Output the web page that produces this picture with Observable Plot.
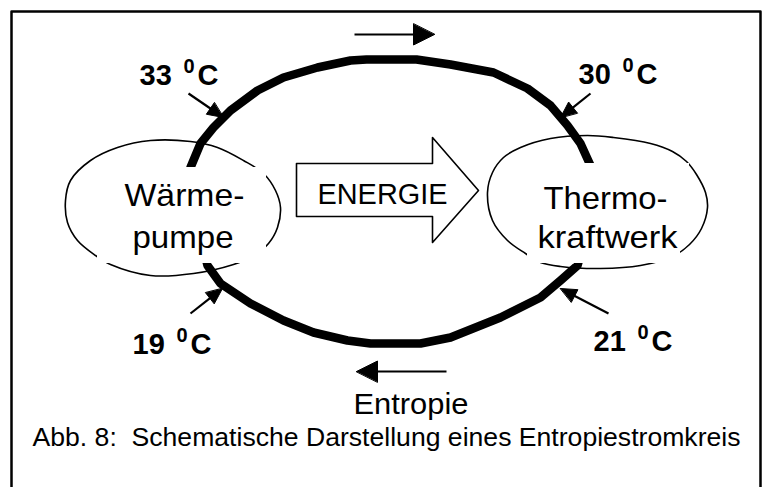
<!DOCTYPE html>
<html><head><meta charset="utf-8">
<script src="https://cdn.jsdelivr.net/npm/d3@7"></script>
<script src="https://cdn.jsdelivr.net/npm/@observablehq/plot@0.6"></script>
<style>body{margin:0;background:#fff}</style>
</head><body><div id="chart"></div>
<script>
// Diagram geometry (pixel units)
const frame = [[11,487],[11,11],[760,11],[760,487]];
const loop = [[190,167],[200,143],[213,127],[230,110],[257,90],[283,77],[317,67],[350,60],[366,59],[416,59],[450,64],[493,72],[527,88],[550,105],[567,125],[580,143],[590,165],[593,210],[577,265],[560,280],[540,297],[500,317],[450,337],[420,343],[370,343],[347,340],[313,332],[283,320],[250,303],[220,283],[207,265],[198,230],[190,195]];
const leftEllipse = [[65,200],[70,180],[90,160],[117,147],[150,140],[190,141],[217,147],[243,160],[263,173],[275,190],[280,207],[277,227],[268,243],[252,256],[233,264],[193,273],[150,275],[110,264],[95,255],[77,240],[67,222]];
const rightEllipse = [[487,192],[492,172],[503,157],[520,147],[550,138],[587,135],[613,137],[650,143],[672,151],[686,161],[696,174],[705,192],[707,207],[701,228],[689,244],[672,256],[640,265],[600,268],[560,266],[540,262],[525,253],[507,240],[492,220]];
// white boxes behind the node labels
const boxes = [{x1:97,y1:167,x2:266,y2:263},{x1:525,y1:163,x2:689,y2:229},{x1:527,y1:229,x2:680,y2:263}];
const energyArrow = [[296,163],[432,163],[432,137],[478,190],[432,242],[432,216],[296,216]];
const flowArrows = [{x1:354,y1:34,x2:434,y2:34},{x1:446,y1:371,x2:356,y2:371}];
const tempArrows = [{x1:188,y1:93,x2:223,y2:117},{x1:590,y1:93,x2:560,y2:117},{x1:190,y1:313,x2:222,y2:288},{x1:608,y1:313,x2:560,y2:288}];
const tempValues = ["33","30","19","21"];
const tempPos = [[139,84],[578,83],[132,353],[593,350]];
const nodeWords = ["Wärme-","pumpe","Thermo-","kraftwerk"];
const nodePos = [[124,205],[132,247],[543,208],[537,247]];
const energyLabel = "ENERGIE";
const flowLabel = "Entropie";
const caption = "Abb. 8:  Schematische Darstellung eines Entropiestromkreis";

function heads(arrows, L, W) {
  const shafts = [], tris = [];
  arrows.forEach((a, i) => {
    const dx = a.x2 - a.x1, dy = a.y2 - a.y1, len = Math.hypot(dx, dy);
    const ux = dx / len, uy = dy / len, nx = -uy, ny = ux;
    const bx = a.x2 - L * ux, by = a.y2 - L * uy;
    shafts.push({x1: a.x1, y1: a.y1, x2: bx + ux, y2: by + uy});
    tris.push({id: i, x: a.x2, y: a.y2}, {id: i, x: bx + W * nx, y: by + W * ny}, {id: i, x: bx - W * nx, y: by - W * ny});
  });
  return {shafts, tris};
}
const big = heads(flowArrows, 21, 10.5);
const small = heads(tempArrows, 16, 7);

const F = "Liberation Sans, Arial, Helvetica, sans-serif";
const temps = tempValues.map((t, i) => ({t, x: tempPos[i][0], y: tempPos[i][1]}));
const nodes = nodeWords.map((t, i) => ({t, x: nodePos[i][0], y: nodePos[i][1]}));
const P = d => ({x: d[0], y: d[1]});

const chart = Plot.plot({
  width: 765, height: 487, margin: 0,
  x: {domain: [0, 765], axis: null},
  y: {domain: [487, 0], axis: null},
  style: {background: "white", fontFamily: F, color: "black"},
  marks: [
    Plot.line(leftEllipse.map(P), {x: "x", y: "y", curve: "catmull-rom-closed", stroke: "black", strokeWidth: 1.6, fill: "white"}),
    Plot.line(rightEllipse.map(P), {x: "x", y: "y", curve: "catmull-rom-closed", stroke: "black", strokeWidth: 1.6, fill: "white"}),
    Plot.line(loop.map(P), {x: "x", y: "y", curve: "linear-closed", stroke: "black", strokeWidth: 8.5, strokeLinejoin: "round"}),
    Plot.rect(boxes, {x1: "x1", x2: "x2", y1: "y1", y2: "y2", fill: "white"}),
    Plot.line(energyArrow.map(P), {x: "x", y: "y", curve: "linear-closed", stroke: "black", strokeWidth: 1.6, fill: "white"}),
    Plot.link(big.shafts, {x1: "x1", y1: "y1", x2: "x2", y2: "y2", stroke: "black", strokeWidth: 2}),
    Plot.line(big.tris, {x: "x", y: "y", z: "id", curve: "linear-closed", fill: "black", stroke: "black", strokeWidth: 1}),
    Plot.link(small.shafts, {x1: "x1", y1: "y1", x2: "x2", y2: "y2", stroke: "black", strokeWidth: 2.2}),
    Plot.line(small.tris, {x: "x", y: "y", z: "id", curve: "linear-closed", fill: "black", stroke: "black", strokeWidth: 1}),
    Plot.text(temps, {x: "x", y: "y", text: "t", textAnchor: "start", fontSize: 29, fontWeight: "bold", dy: -0.32 * 29}),
    Plot.text(temps, {x: "x", y: "y", text: () => "0", textAnchor: "start", fontSize: 20, fontWeight: "bold", dx: 44, dy: -12 - 0.32 * 20}),
    Plot.text(temps, {x: "x", y: "y", text: () => "C", textAnchor: "start", fontSize: 29, fontWeight: "bold", dx: 58, dy: -0.32 * 29}),
    Plot.text(nodes, {x: "x", y: "y", text: "t", textAnchor: "start", fontSize: 32, dy: -0.32 * 32}),
    Plot.text([energyLabel], {x: () => 317, y: () => 203, text: d => d, textAnchor: "start", fontSize: 29, dy: -0.32 * 29}),
    Plot.text([flowLabel], {x: () => 353, y: () => 413, text: d => d, textAnchor: "start", fontSize: 29, dy: -0.32 * 29}),
    Plot.text([caption], {x: () => 32, y: () => 445, text: d => d, textAnchor: "start", fontSize: 25, dy: -0.32 * 25}),
    Plot.line(frame.map(P), {x: "x", y: "y", stroke: "black", strokeWidth: 2.5})
  ]
});
document.getElementById("chart").appendChild(chart);
// match the reference's text widths
const widths = {"Wärme-": 120, "pumpe": 101, "Thermo-": 124, "kraftwerk": 140, "ENERGIE": 130, "Entropie": 115};
widths[caption] = 708;
d3.select(chart).selectAll("text").each(function () {
  const w = widths[this.textContent];
  if (w) { this.setAttribute("textLength", w); this.setAttribute("lengthAdjust", "spacingAndGlyphs"); }
});
</script>
</body></html>
